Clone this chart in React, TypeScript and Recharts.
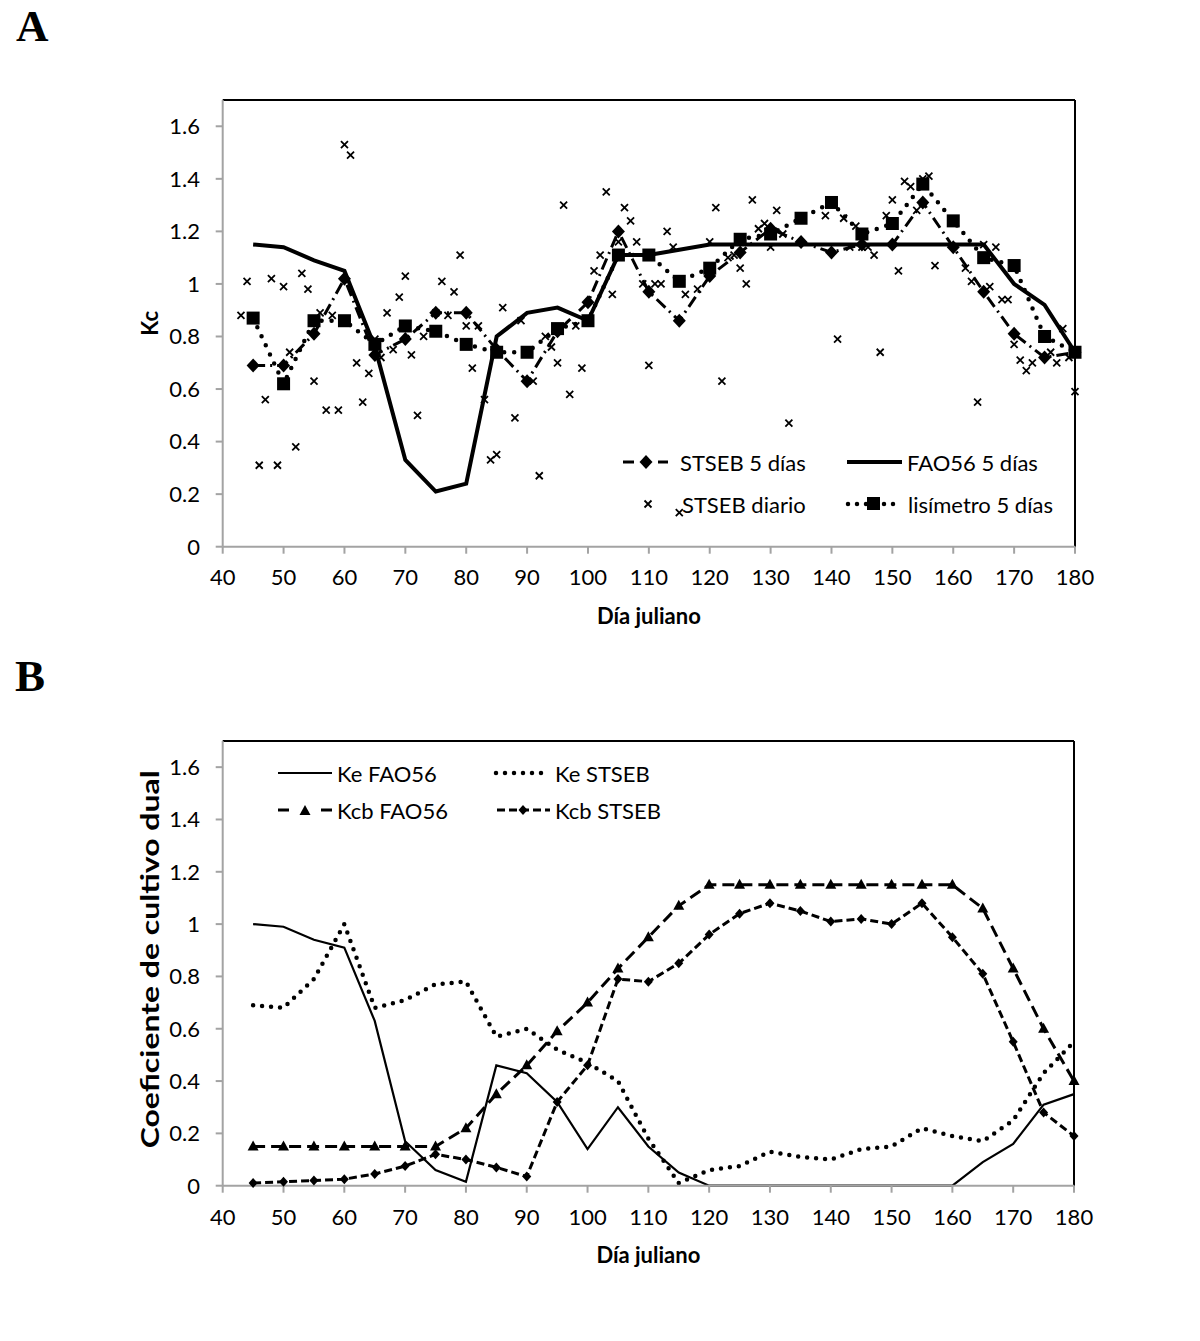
import React from "react";
import {
  ComposedChart,
  Line,
  Scatter,
  XAxis,
  YAxis,
  ReferenceLine,
  Legend,
  Label,
} from "recharts";

// Día juliano of the 5-day means (shared by both panels)
const DAYS_5 = [
  45, 50, 55, 60, 65, 70, 75, 80, 85, 90, 95, 100, 105, 110, 115, 120, 125, 130,
  135, 140, 145, 150, 155, 160, 165, 170, 175, 180,
];

// Panel A — Kc
const KC_STSEB_5 = [
  0.69, 0.69, 0.81, 1.02, 0.73, 0.79, 0.89, 0.89, 0.75, 0.63, 0.82, 0.93, 1.2,
  0.97, 0.86, 1.03, 1.12, 1.21, 1.16, 1.12, 1.15, 1.15, 1.31, 1.14, 0.97, 0.81,
  0.72, 0.74,
];
const KC_FAO56_5 = [
  1.15, 1.14, 1.09, 1.05, 0.76, 0.33, 0.21, 0.24, 0.8, 0.89, 0.91, 0.86, 1.11,
  1.11, 1.13, 1.15, 1.15, 1.15, 1.15, 1.15, 1.15, 1.15, 1.15, 1.15, 1.15, 1.0,
  0.92, 0.74,
];
const KC_LISIMETRO_5 = [
  0.87, 0.62, 0.86, 0.86, 0.77, 0.84, 0.82, 0.77, 0.74, 0.74, 0.83, 0.86, 1.11,
  1.11, 1.01, 1.06, 1.17, 1.19, 1.25, 1.31, 1.19, 1.23, 1.38, 1.24, 1.1, 1.07,
  0.8, 0.74,
];
const DAILY_DAYS = [
  43, 44, 46, 47, 48, 49, 50, 51, 52, 53, 54, 55, 56, 57, 58, 59, 60, 61, 62, 63,
  64, 65, 66, 67, 68, 69, 70, 71, 72, 73, 75, 76, 77, 78, 79, 80, 81, 82, 83, 84,
  85, 86, 88, 89, 91, 92, 93, 94, 95, 96, 97, 98, 99, 101, 102, 103, 104, 105,
  106, 107, 108, 109, 110, 111, 112, 113, 114, 115, 116, 118, 120, 121, 122, 123,
  124, 125, 126, 127, 128, 129, 130, 131, 132, 133, 139, 141, 142, 143, 144, 145,
  146, 147, 148, 149, 150, 151, 152, 153, 154, 155, 156, 157, 162, 163, 164, 165,
  166, 167, 168, 169, 170, 171, 172, 173, 176, 177, 178, 179, 180,
];
const DAILY_KC = [
  0.88, 1.01, 0.31, 0.56, 1.02, 0.31, 0.99, 0.74, 0.38, 1.04, 0.98, 0.63, 0.89,
  0.52, 0.88, 0.52, 1.53, 1.49, 0.7, 0.55, 0.66, 0.79, 0.72, 0.89, 0.75, 0.95,
  1.03, 0.73, 0.5, 0.8, 0.89, 1.01, 0.88, 0.97, 1.11, 0.84, 0.68, 0.84, 0.56,
  0.33, 0.35, 0.91, 0.49, 0.86, 0.63, 0.27, 0.8, 0.76, 0.7, 1.3, 0.58, 0.84,
  0.68, 1.05, 1.11, 1.35, 0.96, 1.16, 1.29, 1.24, 1.16, 1.0, 0.69, 1.0, 1.0, 1.2,
  1.14, 0.13, 0.96, 0.98, 1.16, 1.29, 0.63, 1.1, 1.11, 1.06, 1.0, 1.32, 1.21,
  1.23, 1.14, 1.28, 1.19, 0.47, 1.26, 0.79, 1.25, 1.14, 1.22, 1.14, 1.14, 1.11,
  0.74, 1.26, 1.32, 1.05, 1.39, 1.37, 1.28, 1.4, 1.41, 1.07, 1.06, 1.01, 0.55,
  1.15, 0.99, 1.14, 0.94, 0.94, 0.77, 0.71, 0.67, 0.7, 0.74, 0.7, 0.83, 0.72,
  0.59,
];

// Panel B — dual crop coefficient
const KE_FAO56 = [
  1.0, 0.99, 0.94, 0.91, 0.63, 0.17, 0.06, 0.015, 0.46, 0.43, 0.32, 0.14, 0.3,
  0.15, 0.05, 0, 0, 0, 0, 0, 0, 0, 0, 0, 0.09, 0.16, 0.31, 0.35,
];
const KE_STSEB = [
  0.69, 0.68, 0.79, 1.0, 0.68, 0.71, 0.77, 0.78, 0.57, 0.6, 0.52, 0.47, 0.4,
  0.18, 0.01, 0.06, 0.075, 0.13, 0.11, 0.1, 0.14, 0.15, 0.22, 0.19, 0.17, 0.25,
  0.43, 0.55,
];
const KCB_FAO56 = [
  0.15, 0.15, 0.15, 0.15, 0.15, 0.15, 0.15, 0.22, 0.35, 0.46, 0.59, 0.7, 0.83,
  0.95, 1.07, 1.15, 1.15, 1.15, 1.15, 1.15, 1.15, 1.15, 1.15, 1.15, 1.06, 0.83,
  0.6, 0.4,
];
const KCB_STSEB = [
  0.01, 0.015, 0.02, 0.025, 0.045, 0.075, 0.12, 0.1, 0.07, 0.035, 0.32, 0.46,
  0.79, 0.78, 0.85, 0.96, 1.04, 1.08, 1.05, 1.01, 1.02, 1.0, 1.08, 0.95, 0.81,
  0.55, 0.28, 0.19,
];

const X_TICKS = [40, 50, 60, 70, 80, 90, 100, 110, 120, 130, 140, 150, 160, 170, 180];
const Y_TICKS = [0, 0.2, 0.4, 0.6, 0.8, 1, 1.2, 1.4, 1.6];

const FONT = "Lato, 'Open Sans', sans-serif";
const AXIS_GRAY = "#a3a3a3";
const CHART_W = 1200;
const CHART_H = 650;
const Y_AXIS_W = 80;
const X_AXIS_H = 40;

const fiveDay = (ys: number[]) => DAYS_5.map((d, i) => ({ d, v: ys[i] }));
const daily = DAILY_DAYS.map((d, i) => ({ d, v: DAILY_KC[i] }));

// --- marker shapes ---------------------------------------------------------
const diamondPath = (cx: number, cy: number, w: number, h: number) =>
  `M${cx},${cy - h}L${cx + w},${cy}L${cx},${cy + h}L${cx - w},${cy}Z`;

const trianglePath = (cx: number, cy: number) =>
  `M${cx},${cy - 6}L${cx + 5.5},${cy + 4}L${cx - 5.5},${cy + 4}Z`;

const dotRenderer = (kind: string) => (p: any) => {
  const key = `${kind}-${p.index}`;
  if (p.cx == null || p.cy == null) return <g key={key} />;
  const { cx, cy } = p;
  if (kind === "bigDiamond")
    return <path key={key} d={diamondPath(cx, cy, 6.5, 7)} fill="#000" />;
  if (kind === "square")
    return <rect key={key} x={cx - 6.5} y={cy - 6.5} width={13} height={13} fill="#000" />;
  if (kind === "triangle") return <path key={key} d={trianglePath(cx, cy)} fill="#000" />;
  return <path key={key} d={diamondPath(cx, cy, 4.5, 5)} fill="#000" />;
};

const XMark = ({ cx, cy }: { cx: number; cy: number }) => (
  <path
    d={`M${cx - 3.5},${cy - 3.5}L${cx + 3.5},${cy + 3.5}M${cx + 3.5},${cy - 3.5}L${cx - 3.5},${cy + 3.5}`}
    stroke="#000"
    strokeWidth={1.8}
  />
);

// --- legends ---------------------------------------------------------------
const legendText = { fontFamily: FONT, fontSize: 22, fill: "#000" } as const;

function LegendA() {
  return (
    <svg width={480} height={100}>
      <line x1={23} y1={32} x2={34} y2={32} stroke="#000" strokeWidth={3} />
      <line x1={58} y1={32} x2={68} y2={32} stroke="#000" strokeWidth={3} />
      <path d={diamondPath(46, 32, 6.5, 7)} fill="#000" />
      <text x={80} y={32} dominantBaseline="central" {...legendText}>STSEB 5 días</text>

      <line x1={247} y1={32} x2={302} y2={32} stroke="#000" strokeWidth={4} />
      <text x={307} y={32} dominantBaseline="central" {...legendText}>FAO56 5 días</text>

      <XMark cx={48} cy={74} />
      <text x={82} y={74} dominantBaseline="central" {...legendText}>STSEB diario</text>

      <line x1={248} y1={74} x2={298} y2={74} stroke="#000" strokeWidth={4.5} strokeDasharray="0 9" strokeLinecap="round" />
      <rect x={267} y={67} width={13} height={13} fill="#000" />
      <text x={308} y={74} dominantBaseline="central" {...legendText}>lisímetro 5 días</text>
    </svg>
  );
}

function LegendB() {
  return (
    <svg width={450} height={90}>
      <line x1={18} y1={28} x2={72} y2={28} stroke="#000" strokeWidth={2.2} />
      <text x={77} y={28} dominantBaseline="central" {...legendText}>Ke FAO56</text>

      <line x1={236} y1={28} x2={286} y2={28} stroke="#000" strokeWidth={4.5} strokeDasharray="0 9" strokeLinecap="round" />
      <text x={295} y={28} dominantBaseline="central" {...legendText}>Ke STSEB</text>

      <line x1={18} y1={65} x2={29} y2={65} stroke="#000" strokeWidth={3} />
      <line x1={61} y1={65} x2={72} y2={65} stroke="#000" strokeWidth={3} />
      <path d={trianglePath(45, 66)} fill="#000" />
      <text x={77} y={65} dominantBaseline="central" {...legendText}>Kcb FAO56</text>

      <line x1={237} y1={65} x2={290} y2={65} stroke="#000" strokeWidth={3} strokeDasharray="8 4" />
      <path d={diamondPath(263, 65, 4.5, 5)} fill="#000" />
      <text x={295} y={65} dominantBaseline="central" {...legendText}>Kcb STSEB</text>
    </svg>
  );
}

// --- axis titles -----------------------------------------------------------
const xTitle = (props: any) => {
  const vb = props.viewBox || {};
  return (
    <text
      x={vb.x + vb.width / 2}
      y={vb.y + 68.3}
      textAnchor="middle"
      dominantBaseline="central"
      fontFamily={FONT}
      fontWeight="bold"
      fontSize={22}
      fill="#000"
    >
      Día juliano
    </text>
  );
};

const yTitle = (text: string, length?: number) => (props: any) => {
  const vb = props.viewBox || {};
  const cx = vb.x + 7.3;
  const cy = vb.y + vb.height / 2 + (length ? -4 : 0);
  return (
    <text
      x={cx}
      y={cy}
      transform={`rotate(-90 ${cx} ${cy})`}
      textAnchor="middle"
      dominantBaseline="central"
      fontFamily={FONT}
      fontWeight="bold"
      fontSize={length ? 24 : 22}
      fill="#000"
      textLength={length}
      lengthAdjust={length ? "spacingAndGlyphs" : undefined}
    >
      {text}
    </text>
  );
};

const tickStyle = { fill: "#000", fontSize: 22, fontFamily: FONT };

function PanelA() {
  return (
    <ComposedChart
      width={CHART_W}
      height={CHART_H}
      margin={{ top: 100, right: 125, bottom: 63.3, left: 142.7 }}
    >
      <XAxis
        dataKey="d"
        type="number"
        domain={[40, 180]}
        ticks={X_TICKS}
        interval={0}
        height={X_AXIS_H}
        stroke={AXIS_GRAY}
        strokeWidth={2}
        tickSize={7}
        tickMargin={16}
        tick={tickStyle}
      >
        <Label content={xTitle} />
      </XAxis>
      <YAxis
        type="number"
        domain={[0, 1.7]}
        ticks={Y_TICKS}
        interval={0}
        width={Y_AXIS_W}
        stroke={AXIS_GRAY}
        strokeWidth={2}
        tickSize={7}
        tickMargin={15.7}
        tick={tickStyle}
      >
        <Label content={yTitle("Kc")} />
      </YAxis>
      <ReferenceLine y={1.7} stroke="#000" strokeWidth={2} />
      <ReferenceLine x={180} stroke="#000" strokeWidth={2} />
      <Scatter
        name="STSEB diario"
        data={daily}
        dataKey="v"
        shape={(p: any) => <XMark cx={p.cx} cy={p.cy} />}
        isAnimationActive={false}
      />
      <Line
        name="lisímetro 5 días"
        data={fiveDay(KC_LISIMETRO_5)}
        dataKey="v"
        type="linear"
        stroke="#000"
        strokeWidth={4.5}
        strokeDasharray="0 10"
        strokeLinecap="round"
        dot={dotRenderer("square")}
        activeDot={false}
        isAnimationActive={false}
      />
      <Line
        name="FAO56 5 días"
        data={fiveDay(KC_FAO56_5)}
        dataKey="v"
        type="linear"
        stroke="#000"
        strokeWidth={4}
        dot={false}
        activeDot={false}
        isAnimationActive={false}
      />
      <Line
        name="STSEB 5 días"
        data={fiveDay(KC_STSEB_5)}
        dataKey="v"
        type="linear"
        stroke="#000"
        strokeWidth={3}
        strokeDasharray="12 5 2 5"
        dot={dotRenderer("bigDiamond")}
        activeDot={false}
        isAnimationActive={false}
      />
      <Legend
        layout="horizontal"
        verticalAlign="middle"
        align="center"
        wrapperStyle={{ left: 600, top: 430, width: 480, height: 100 }}
        content={() => <LegendA />}
      />
    </ComposedChart>
  );
}

function PanelB() {
  return (
    <ComposedChart
      width={CHART_W}
      height={CHART_H}
      margin={{ top: 101, right: 126, bottom: 64.3, left: 142.7 }}
    >
      <XAxis
        dataKey="d"
        type="number"
        domain={[40, 180]}
        ticks={X_TICKS}
        interval={0}
        height={X_AXIS_H}
        stroke={AXIS_GRAY}
        strokeWidth={2}
        tickSize={7}
        tickMargin={17}
        tick={tickStyle}
      >
        <Label content={xTitle} />
      </XAxis>
      <YAxis
        type="number"
        domain={[0, 1.7]}
        ticks={Y_TICKS}
        interval={0}
        width={Y_AXIS_W}
        stroke={AXIS_GRAY}
        strokeWidth={2}
        tickSize={7}
        tickMargin={15.7}
        tick={tickStyle}
      >
        <Label content={yTitle("Coeficiente de cultivo dual", 378)} />
      </YAxis>
      <ReferenceLine y={1.7} stroke="#000" strokeWidth={2} />
      <ReferenceLine x={180} stroke="#000" strokeWidth={2} />
      <Line
        name="Ke FAO56"
        data={fiveDay(KE_FAO56)}
        dataKey="v"
        type="linear"
        stroke="#000"
        strokeWidth={2.2}
        dot={false}
        activeDot={false}
        isAnimationActive={false}
      />
      <Line
        name="Ke STSEB"
        data={fiveDay(KE_STSEB)}
        dataKey="v"
        type="linear"
        stroke="#000"
        strokeWidth={4.5}
        strokeDasharray="0 9"
        strokeLinecap="round"
        dot={false}
        activeDot={false}
        isAnimationActive={false}
      />
      <Line
        name="Kcb FAO56"
        data={fiveDay(KCB_FAO56)}
        dataKey="v"
        type="linear"
        stroke="#000"
        strokeWidth={3}
        strokeDasharray="12 6"
        dot={dotRenderer("triangle")}
        activeDot={false}
        isAnimationActive={false}
      />
      <Line
        name="Kcb STSEB"
        data={fiveDay(KCB_STSEB)}
        dataKey="v"
        type="linear"
        stroke="#000"
        strokeWidth={3}
        strokeDasharray="8 4"
        dot={dotRenderer("smallDiamond")}
        activeDot={false}
        isAnimationActive={false}
      />
      <Legend
        layout="horizontal"
        verticalAlign="middle"
        align="center"
        wrapperStyle={{ left: 260, top: 105, width: 450, height: 90 }}
        content={() => <LegendB />}
      />
    </ComposedChart>
  );
}

const panelLetter: React.CSSProperties = {
  position: "absolute",
  fontFamily: "'Liberation Serif', 'Times New Roman', serif",
  fontWeight: "bold",
  fontSize: 45,
  lineHeight: "normal",
  color: "#000",
};

export default function App() {
  return (
    <div
      style={{
        position: "absolute",
        left: 0,
        top: 0,
        width: 1200,
        height: 1341,
        background: "#fff",
        overflow: "hidden",
      }}
    >
      <div style={{ ...panelLetter, left: 16, top: 0 }}>A</div>
      <div style={{ ...panelLetter, left: 15, top: 650 }}>B</div>
      <div style={{ position: "absolute", left: 0, top: 0 }}>
        <PanelA />
      </div>
      <div style={{ position: "absolute", left: 0, top: 640 }}>
        <PanelB />
      </div>
    </div>
  );
}
